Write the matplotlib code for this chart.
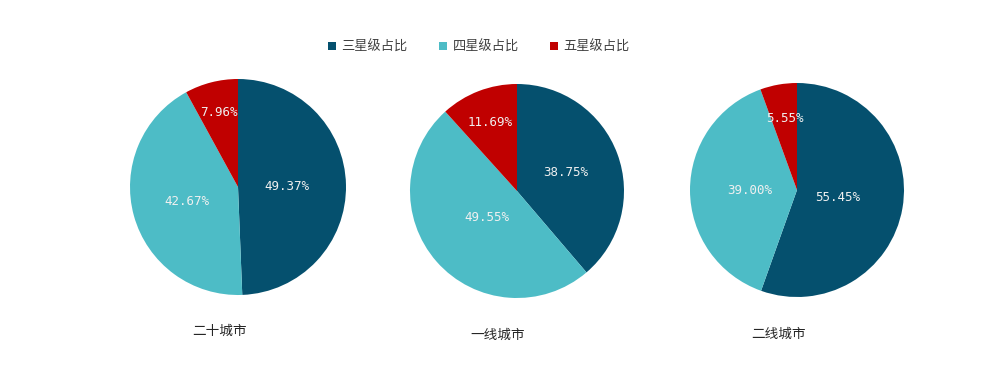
import matplotlib.pyplot as plt
import numpy as np

plt.rcParams['font.family'] = ['Noto Sans CJK SC', 'DejaVu Sans']

series = ['三星级占比', '四星级占比', '五星级占比']
cities = ['二十城市', '一线城市', '二线城市']
share_20 = [49.37, 42.67, 7.96]
share_t1 = [38.75, 49.55, 11.69]
share_t2 = [55.45, 39.00, 5.55]
colors = ['#05506E', '#4DBCC6', '#C00000']

# per-slice label radius (as fraction of pie radius)
label_r = [[0.45, 0.49, 0.71], [0.49, 0.38, 0.69], [0.39, 0.44, 0.68]]
# pie centres / radius in pixels
centres = [(238, 187, 108), (517, 191, 107), (797, 190, 107)]

W, H = 1000, 369
fig = plt.figure(figsize=(W / 100, H / 100), dpi=100)

wedges0 = None
for i, vals in enumerate([share_20, share_t1, share_t2]):
    cx, cy, r = centres[i]
    ax = fig.add_axes([(cx - r) / W, 1 - (cy + r) / H, 2 * r / W, 2 * r / H])
    wedges, _ = ax.pie(vals, colors=colors, startangle=90, counterclock=False,
                       radius=1.0, wedgeprops=dict(linewidth=0))
    ax.set_xlim(-1, 1)
    ax.set_ylim(-1, 1)
    for w, v, lr in zip(wedges, vals, label_r[i]):
        ang = np.deg2rad((w.theta1 + w.theta2) / 2)
        ax.text(lr * np.cos(ang), lr * np.sin(ang), f'{v:.2f}%', ha='center', va='center',
                color='#F0F0F0', fontsize=9, family='DejaVu Sans Mono')
    fig.text((cx - 19) / W, 1 - (cy + 144) / H, cities[i], ha='center', va='center',
             fontsize=9.8, color='#262626')
    if wedges0 is None:
        wedges0 = wedges

fig.legend(wedges0, series, loc='center', bbox_to_anchor=(0.479, 1 - 47 / H), ncol=3,
           frameon=False, fontsize=9.5, handlelength=0.6, handleheight=0.6,
           columnspacing=2.4, handletextpad=0.4, labelcolor='#404040')

fig.savefig('out.png', dpi=100, facecolor='white')
